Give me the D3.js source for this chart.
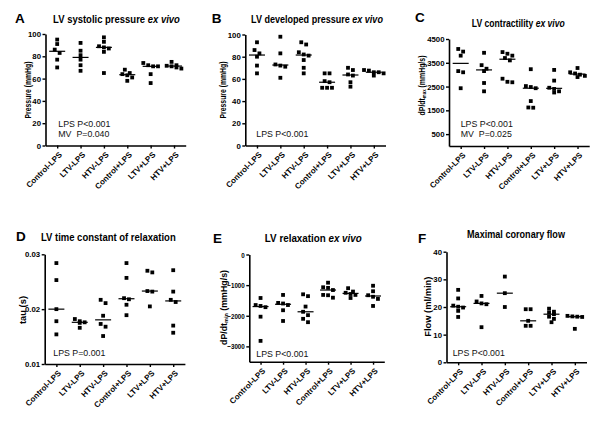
<!DOCTYPE html>
<html><head><meta charset="utf-8">
<script src="https://cdn.jsdelivr.net/npm/d3@7"></script>
<style>body{margin:0;background:#fff}svg{display:block}text{font-family:"Liberation Sans",Arial,Helvetica,sans-serif}</style>
</head><body><svg id="c" width="600" height="421"></svg>
<script>
// ---------- data ----------
const categories = ["Control-LPS","LTV-LPS","HTV-LPS","Control+LPS","LTV+LPS","HTV+LPS"];

const valuesA = [[95,91,86,83,77,70],[92,85,81,77,72,67],[97,93,89,88,87,84,65],[68,65,64,63,61,58],[74,72,71,71,64,56],[75,72,71.5,71,70,69]];
const valuesB = [[93,86,83,80,72,65],[98,83,73,72,71,61],[93,91,84,82,81,77,70,65],[65,65,58,57,52,52,52],[70,68,64,63,57,53],[68,67.5,66,66,65,63]];
const valuesC = [[4080,3970,3800,3150,3100,2430],[3920,3400,3250,3150,2650,2300],[3950,3880,3800,3700,3600,2830,2700,2680],[3230,2520,2480,2430,1890,1620,1610],[3200,2750,2450,2400,2300,2250],[3280,3100,3050,3000,2950,2900]];
const valuesD = [[0.0284,0.0253,0.0200,0.0178,0.0154],[0.0182,0.0178,0.0176,0.0175,0.0166],[0.0217,0.0211,0.0188,0.0173,0.0168,0.0151],[0.0284,0.0257,0.0220,0.0218,0.0208,0.0189],[0.0270,0.0267,0.0233,0.0232,0.0205],[0.0271,0.0232,0.0217,0.0213,0.0170,0.0157]];
const valuesE = [[-1420,-1650,-1680,-1720,-2030,-2820],[-1320,-1580,-1600,-1650,-1820,-2170],[-1300,-1360,-1700,-1870,-1980,-2100,-2210],[-920,-1070,-1090,-1160,-1320,-1330,-1410],[-1100,-1210,-1250,-1290,-1320,-1420],[-1020,-1200,-1330,-1380,-1450,-1680]];
const valuesF = [[26.2,23.1,20.5,20.1,19.8,18.6,16.4],[24,22,21.3,21,12.7],[31,25,20],[19.2,19.2,15,13.2,13.2],[19.4,18.3,18,17.4,16.5,15.7,14.5],[16.8,16.6,16.5,16.4,12.1]];

const ticksA = [0,20,40,60,80,100];
const ticksB = [0,20,40,60,80,100];
const ticksC = [500,1500,2500,3500,4500];
const ticksD = [0.01,0.02,0.03];
const ticksE = [0,-1000,-2000,-3000];
const ticksF = [0,10,20,30,40];

const domainA = [0,100], domainB = [0,100], domainC = [0,4500], domainD = [0.01,0.03], domainE = [-3500,0], domainF = [0,40];

const titleA = ["LV systolic pressure ", "ex vivo"];
const titleB = ["LV developed pressure ", "ex vivo"];
const titleC = ["LV contractility ", "ex vivo"];
const titleD = ["LV time constant of relaxation", ""];
const titleE = ["LV relaxation ", "ex vivo"];
const titleF = ["Maximal coronary flow", ""];

const ylabelA = ["Pressure (mmHg)"];
const ylabelB = ["Pressure (mmHg)"];
const ylabelC = ["dP/dt", "max", " (mmHg/s)"];
const ylabelD = ["tau (s)"];
const ylabelE = ["dP/dt", "min", " (mmHg/s)"];
const ylabelF = ["Flow (ml/min)"];

const statsA = ["LPS P<0.001", "MV  P=0.040"];
const statsB = ["LPS P<0.001"];
const statsC = ["LPS P<0.001", "MV  P=0.025"];
const statsD = ["LPS P=0.001"];
const statsE = ["LPS P<0.001"];
const statsF = ["LPS P<0.001"];

// ---------- layout ----------
const panels = [
 {letter:"A", values:valuesA, ticks:ticksA, dom:domainA, title:titleA, ylabel:ylabelA, stats:statsA, fmt:d3.format("d"), tsx:1,
  x0:45.5, x1:185.7, yTop:34, yBot:145.5, L:[15,22.7], T:[116.5,22.7,127], Y:[27.5,90,57], S:[58.3,127.3]},
 {letter:"B", values:valuesB, ticks:ticksB, dom:domainB, title:titleB, ylabel:ylabelB, stats:statsB, fmt:d3.format("d"), tsx:1,
  x0:245.3, x1:385.5, yTop:34.5, yBot:145.5, L:[211.7,22.7], T:[317,22.7,132], Y:[223,90,57], S:[256.3,137.3]},
 {letter:"C", values:valuesC, ticks:ticksC, dom:domainC, title:titleC, ylabel:ylabelC, stats:statsC, fmt:d3.format("d"), tsx:1,
  x0:449, x1:589.2, yTop:39, yBot:146, L:[415,21.7], T:[518.3,26.5,93], Y:[421.5,85.5,60], S:[460.7,127.3]},
 {letter:"D", values:valuesD, ticks:ticksD, dom:domainD, title:titleD, ylabel:ylabelD, stats:statsD, fmt:d3.format(".2f"), tsx:1,
  x0:44.7, x1:184.9, yTop:254.3, yBot:364, L:[16,241], T:[108.3,241,135], Y:[21.5,310,28], S:[53.3,355.7]},
 {letter:"E", values:valuesE, ticks:ticksE, dom:domainE, title:titleE, ylabel:ylabelE, stats:statsE, fmt:d3.format("d"), tsx:0.8,
  x0:249.3, x1:384.3, yTop:254.5, yBot:361.7, L:[213,242.7], T:[313.3,241.7,97], Y:[224,307.5,75], S:[256.3,356.7]},
 {letter:"F", values:valuesF, ticks:ticksF, dom:domainF, title:titleF, ylabel:ylabelF, stats:statsF, fmt:d3.format("d"), tsx:1,
  x0:446.5, x1:586.5, yTop:251.7, yBot:362.3, L:[418,242.7], T:[516,238.3,98], Y:[426.5,306.7,60], S:[452.7,356]}
];

const svg = d3.select("#c");
svg.append("rect").attr("width",600).attr("height",421).attr("fill","#fff");

const SQ = 3.8, STEP = 4.9;

panels.forEach(p => {
  const g = svg.append("g");
  const x = d3.scalePoint().domain(categories).range([p.x0, p.x1]).padding(0.5);
  const y = d3.scaleLinear().domain(p.dom).range([p.yBot, p.yTop]);

  // axes
  const ya = g.append("g").attr("transform",`translate(${p.x0},0)`)
    .call(d3.axisLeft(y).tickValues(p.ticks).tickFormat(p.fmt).tickSize(3).tickSizeOuter(0).tickPadding(1.5));
  const xa = g.append("g").attr("transform",`translate(0,${p.yBot})`)
    .call(d3.axisBottom(x).tickSize(3).tickSizeOuter(0));
  [ya, xa].forEach(a => {
    a.select(".domain").attr("stroke","#000").attr("stroke-width",1.6);
    a.selectAll(".tick line").attr("stroke","#000").attr("stroke-width",1.4);
  });
  ya.selectAll(".tick text").attr("font-size",7.8).attr("font-weight","bold").attr("fill","#000")
    .attr("font-family","Liberation Sans, Arial, sans-serif")
    .attr("x",0).attr("transform",`translate(-4.5,0) scale(${p.tsx},1)`);
  xa.selectAll(".tick text")
    .attr("font-size",8).attr("font-weight","bold").attr("fill","#000")
    .attr("font-family","Liberation Sans, Arial, sans-serif")
    .attr("text-anchor","end").attr("dy",null).attr("y",null)
    .attr("transform","translate(3,8) rotate(-45)")
    .attr("dominant-baseline","central");

  // points (rows of near-equal values spread symmetrically)
  p.values.forEach((vals, i) => {
    const cx = x(categories[i]);
    const ys = vals.map(v => y(v)).sort((a,b)=>a-b);
    const rows = [];
    ys.forEach(yy => {
      const last = rows[rows.length-1];
      if (last && yy - last[0] < SQ) last.push(yy); else rows.push([yy]);
    });
    const pts = [];
    rows.forEach(r => r.forEach((yy,j) => pts.push({x: cx + (j - (r.length-1)/2)*STEP, y: yy})));
    g.selectAll(null).data(pts).enter().append("rect")
      .attr("x", d=>d.x-SQ/2).attr("y", d=>d.y-SQ/2).attr("width",SQ).attr("height",SQ).attr("fill","#000");
    const med = d3.median(vals);
    g.append("line").attr("x1",cx-8).attr("x2",cx+8).attr("y1",y(med)).attr("y2",y(med))
      .attr("stroke","#000").attr("stroke-width",1.2);
  });

  // panel letter
  g.append("text").attr("x",p.L[0]).attr("y",p.L[1]).attr("font-size",13.5).attr("font-weight","bold").text(p.letter);

  // title (fit to target width)
  const t = g.append("text").attr("text-anchor","middle").attr("font-size",11.5).attr("font-weight","bold");
  t.append("tspan").text(p.title[0]);
  if (p.title[1]) t.append("tspan").attr("font-style","italic").text(p.title[1]);
  const tw = t.node().getComputedTextLength();
  t.attr("transform",`translate(${p.T[0]},${p.T[1]}) scale(${p.T[2]/tw},1)`);

  // y label (fit to target length)
  const yl = g.append("text").attr("text-anchor","middle").attr("dominant-baseline","central")
    .attr("font-size",9.5).attr("font-weight","bold");
  yl.append("tspan").text(p.ylabel[0]);
  if (p.ylabel.length > 1) {
    yl.append("tspan").attr("font-size",6).attr("dy",2).text(p.ylabel[1]);
    yl.append("tspan").attr("dy",-2).text(p.ylabel[2]);
  }
  const yw = yl.node().getComputedTextLength();
  yl.attr("transform",`translate(${p.Y[0]},${p.Y[1]}) rotate(-90) scale(${p.Y[2]/yw},1)`);

  // stats
  p.stats.forEach((s, k) => {
    g.append("text").attr("x",p.S[0]).attr("y",p.S[1]+k*10).attr("font-size",8.8)
      .attr("fill","#111").attr("xml:space","preserve").style("white-space","pre").text(s);
  });
});
</script></body></html>
